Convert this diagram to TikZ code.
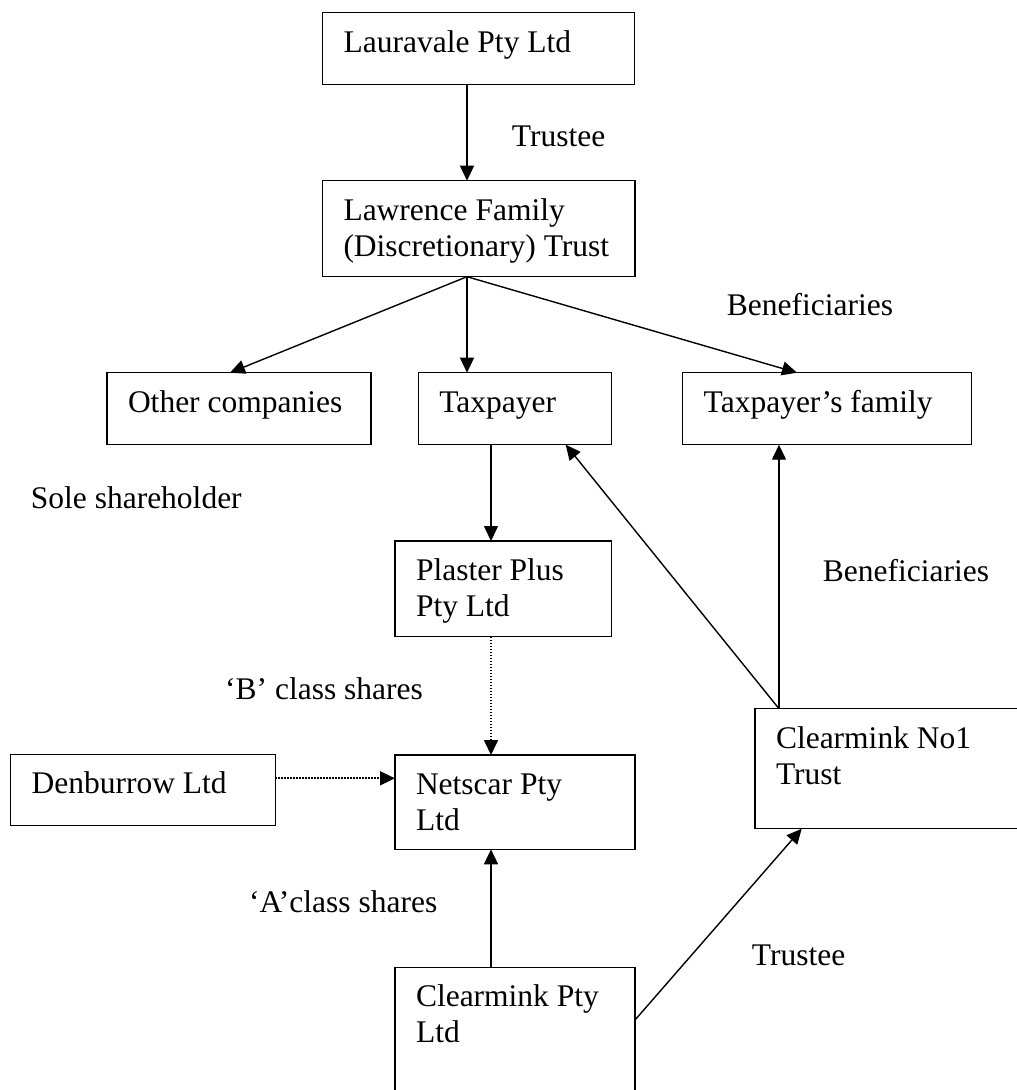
\documentclass[tikz,border=0pt]{standalone}
\usepackage{fontspec}
\setmainfont{Liberation Serif}
\usetikzlibrary{arrows.meta}

% box text: fixed width and height, text from the top left
\newcommand{\firmtext}[3]{\parbox[t][#2][t]{#1}{\raggedright\leftskip=21pt\rule{0pt}{39.5pt}#3}}

\begin{document}
\begin{tikzpicture}
		[x=1pt,y=-1pt,
		font=\fontsize{31.5}{36}\selectfont,
		%Styles
		firm/.style={draw,line width=1.5pt,anchor=north west,inner sep=0pt,outer sep=0pt},
		link/.style={line width=1.4pt,-{Triangle[length=15pt,width=14pt]}},
		share link/.style={link,line width=1.7pt,dash pattern=on 1.5pt off 1.5pt},
		note/.style={anchor=base west,inner sep=0pt}
		]
		
		\useasboundingbox[fill=white] (0,0) rectangle (1017,1090);
		\clip (0,0) rectangle (1017,1090);
		
		%Columns of the straight links
		\coordinate (colA) at (467,0);
		\coordinate (colB) at (491,0);
		\coordinate (colC) at (779,0);
		\coordinate (rowD) at (0,778.3);
		
		%The boxes
		\node[firm] (laur) at (322.7,12.7) {\firmtext{311.6pt}{72pt}{Lauravale Pty Ltd}};
		\node[firm] (law) at (322.5,180.7) {\firmtext{312.5pt}{96pt}{Lawrence Family\\(Discretionary) Trust}};
		\node[firm] (other) at (107,372.7) {\firmtext{264pt}{72pt}{Other companies}};
		\node[firm] (tp) at (418.3,372.7) {\firmtext{193.4pt}{72pt}{Taxpayer}};
		\node[firm] (fam) at (682.7,372.7) {\firmtext{288.6pt}{72pt}{Taxpayer’s family}};
		\node[firm] (plas) at (395,541) {\firmtext{216.7pt}{95.7pt}{Plaster Plus\\Pty Ltd}};
		\node[firm] (net) at (395,755) {\firmtext{240pt}{94.3pt}{Netscar Pty\\Ltd}};
		\node[firm] (den) at (10.7,754.3) {\firmtext{264.6pt}{71.4pt}{Denburrow Ltd}};
		\node[firm] (no1) at (755,708.7) {\firmtext{300pt}{120pt}{Clearmink No1\\Trust}};
		\node[firm] (cpty) at (395,967.3) {\firmtext{240pt}{140pt}{Clearmink Pty\\Ltd}};
		
		%The links
		\draw[link] (laur.south -| colA) -- (law.north -| colA);
		\draw[link] (law.south -| colA) -- ([xshift=-9pt]other.north);
		\draw[link] (law.south -| colA) -- (tp.north -| colA);
		\draw[link] (law.south -| colA) -- ([xshift=-30pt]fam.north);
		\draw[link] (tp.south -| colB) -- (plas.north -| colB);
		\draw[share link] (plas.south -| colB) -- (net.north -| colB);
		\draw[share link] (den.east |- rowD) -- (net.west |- rowD);
		\draw[link] (cpty.north -| colB) -- (net.south -| colB);
		\draw[link] ([yshift=-52.7pt]cpty.north east) -- ([xshift=46.7pt]no1.south west);
		\draw[link] (no1.north -| colC) -- (fam.south -| colC);
		\draw[link] (no1.north -| colC) -- ([xshift=-46pt]tp.south east);
		
		%Labels
		\node[note] (trustee) at (511.7,146.7) {Trustee};
		\node[note] (benef) at (726.7,315) {Beneficiaries};
		\node[note] (sole) at (30.7,508.3) {Sole shareholder};
		\node[note] (benef2) at (822.7,581) {Beneficiaries};
		\node[note] (bshares) at (225,699.3) {‘B’ class shares};
		\node[note] (ashares) at (249,912.3) {‘A’class shares};
		\node[note] (trustee2) at (751.7,965) {Trustee};
	\end{tikzpicture}
\end{document}
